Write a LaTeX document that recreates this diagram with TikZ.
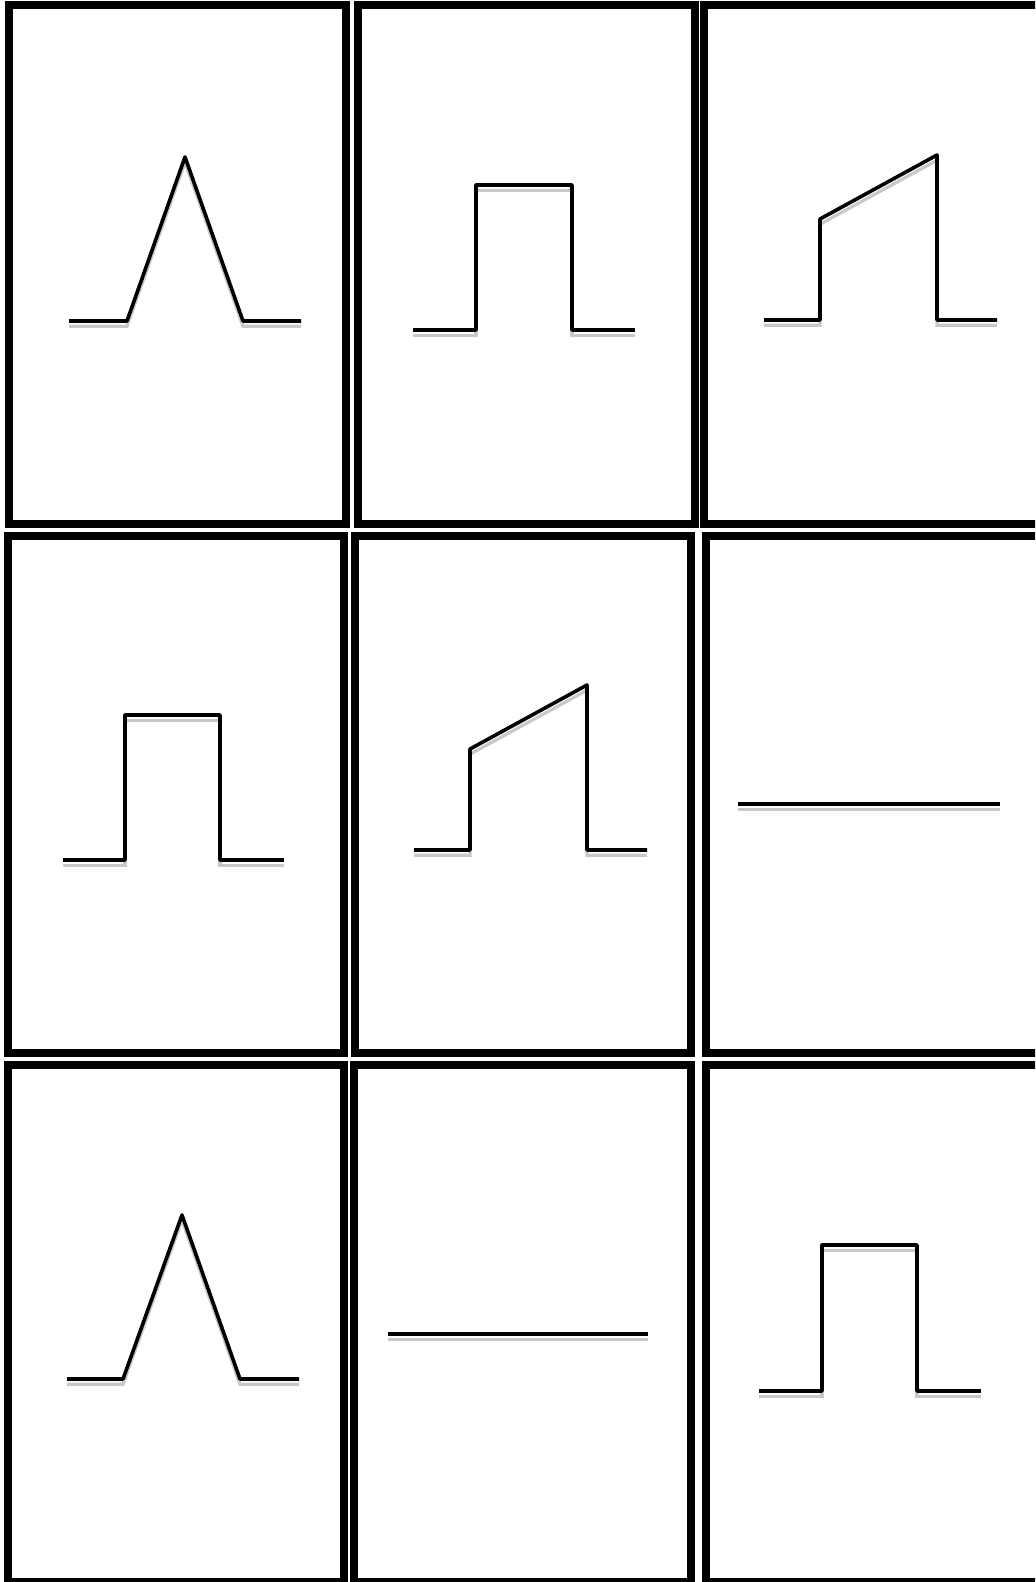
\documentclass[tikz,border=0pt]{standalone}
\usepackage{xcolor}
\usepackage{tikz}
\definecolor{cardShade}{HTML}{C8C8C8}
\newcommand{\pulse}[1]{%
  \draw[pulseshade] #1;
  \draw[pulseline] #1;}

\begin{document}
\begin{tikzpicture}[x=0.025cm, y=-0.025cm,
    cardframe/.style={draw=black, line width=0.2cm},
    pulseline/.style={draw=black, line width=0.09cm, line join=round},
    pulseshade/.style={draw=cardShade, line width=0.08cm, yshift=-0.13cm}]
  \useasboundingbox (0,0) rectangle (1035,1582);
  \clip (0,0) rectangle (1035,1582);
  % card frames, row by row
  \foreach \xa/\xb/\ya/\yb in {
    9/345.5/5.5/524, 358/695/5.5/524, 704/1045/5.5/524,
    8/344/535.5/1053, 354.5/691/535.5/1053, 706/1045/535.5/1053,
    8/343.5/1065/1582, 354/690.5/1065/1582, 705.5/1045/1065/1582
  } {
    \draw[cardframe] (\xa,\ya) rectangle (\xb,\yb);
  }
  % row 1
  \pulse{(69,321) -- (127,321) -- (185,157) -- (243,321) -- (301,321)}
  \pulse{(413,330) -- (476,330) -- (476,185) -- (572,185) -- (572,330) -- (635,330)}
  \pulse{(764,320) -- (820,320) -- (820,219) -- (937,155) -- (937,320) -- (997,320)}
  % row 2
  \pulse{(63,860) -- (125,860) -- (125,715) -- (220,715) -- (220,860) -- (284,860)}
  \pulse{(414,850) -- (470,850) -- (470,749) -- (587,685) -- (587,850) -- (647,850)}
  \pulse{(738,804) -- (1000,804)}
  % row 3
  \pulse{(67,1379) -- (123,1379) -- (182,1215) -- (240,1379) -- (299,1379)}
  \pulse{(388,1334) -- (648,1334)}
  \pulse{(759,1391) -- (822,1391) -- (822,1245) -- (917,1245) -- (917,1391) -- (981,1391)}
\end{tikzpicture}
\end{document}
